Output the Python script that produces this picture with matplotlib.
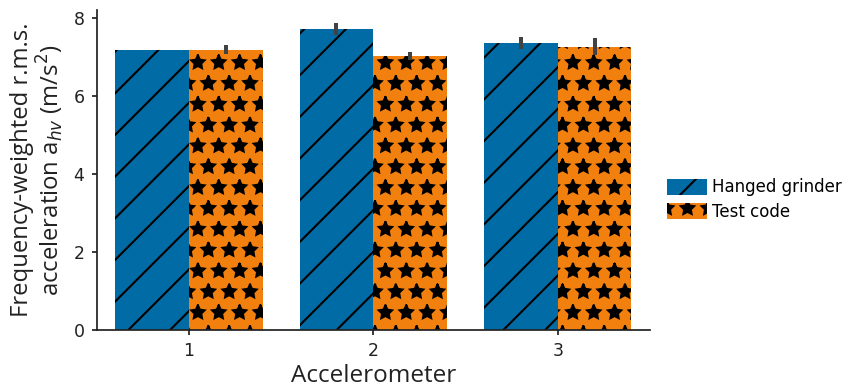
import numpy as np
import matplotlib
matplotlib.use("Agg")
import matplotlib.pyplot as plt

# Mean frequency-weighted r.m.s. acceleration per accelerometer
accelerometers = ["1", "2", "3"]
series_names = ["Hanged grinder", "Test code"]
hanged_grinder = [7.19, 7.72, 7.36]
hanged_grinder_err = [0.0, 0.15, 0.15]
test_code = [7.19, 7.03, 7.27]
test_code_err = [0.12, 0.11, 0.22]

DPI = 250
plt.rcParams["hatch.linewidth"] = 0.6
plt.rcParams["font.family"] = "DejaVu Sans"

fig = plt.figure(figsize=(854 / DPI, 387 / DPI), dpi=DPI)
ax = fig.add_axes([0.1132, 0.1473, 0.6478, 0.8268])

x = np.arange(len(accelerometers))
w = 0.4
blue = "#006BA4"
orange = "#F2800E"
errc = "#424242"
ink = "#222222"

ax.bar(x - w / 2, hanged_grinder, width=w, color=blue, edgecolor="black",
       linewidth=0, hatch="//", label=series_names[0], zorder=2)
ax.bar(x + w / 2, test_code, width=w, color=orange, edgecolor="black",
       linewidth=0, hatch="**", label=series_names[1], zorder=2)
ax.errorbar(x - w / 2, hanged_grinder, yerr=hanged_grinder_err, fmt="none",
            ecolor=errc, elinewidth=1.15, capsize=0, zorder=3)
ax.errorbar(x + w / 2, test_code, yerr=test_code_err, fmt="none",
            ecolor=errc, elinewidth=1.15, capsize=0, zorder=3)

ax.set_xlim(-0.5, 2.5)
ax.set_ylim(0, 8.21)
ax.set_xticks(x)
ax.set_xticklabels(accelerometers)
ax.set_yticks([0, 2, 4, 6, 8])

for side in ("top", "right"):
    ax.spines[side].set_visible(False)
for side in ("left", "bottom"):
    ax.spines[side].set_linewidth(0.5)
    ax.spines[side].set_color(ink)
ax.tick_params(axis="both", labelsize=5.0, width=0.5, length=1.5,
               color=ink, labelcolor=ink)
ax.tick_params(axis="y", pad=2.0)
ax.tick_params(axis="x", pad=2.0)

label_font = ["Open Sans", "DejaVu Sans"]
ax.set_xlabel("Accelerometer", fontsize=7.0, labelpad=1.0, color=ink,
              family=label_font)
ax.set_ylabel("Frequency-weighted r.m.s.\nacceleration a$_{hv}$ (m/s$^2$)",
              fontsize=6.9, labelpad=2, color=ink, linespacing=1.05,
              family=label_font)

fig.legend(loc="center left", bbox_to_anchor=(0.763, 0.484), frameon=False,
           fontsize=4.8, handlelength=2.4, handleheight=1.1,
           handletextpad=0.3, labelspacing=0.4)

fig.savefig("out.png", dpi=DPI)
